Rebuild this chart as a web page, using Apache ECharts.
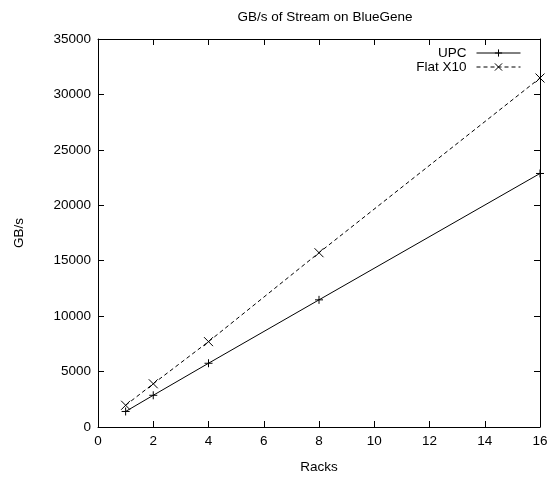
<!DOCTYPE html>
<html><head><meta charset="utf-8">
<script src="https://cdn.jsdelivr.net/npm/echarts@6/dist/echarts.min.js"></script>
<style>html,body{margin:0;padding:0;background:#fff}#c{width:551px;height:479px}</style>
</head><body><div id="c"></div>
<script>
const racks = [1, 2, 4, 8, 16];
const upc = [1400, 2860, 5750, 11470, 22870];
const flatX10 = [1960, 3900, 7700, 15720, 31480];
const xTicks = [0, 2, 4, 6, 8, 10, 12, 14, 16];
const yTicks = [0, 5000, 10000, 15000, 20000, 25000, 30000, 35000];

const FONT = 'Liberation Sans, Arial, sans-serif';
const FS = 13.5;
const chart = echarts.init(document.getElementById('c'), null, {renderer: 'canvas'});
const plus = 'path://M0,5L10,5M5,0L5,10';
const cross = 'path://M0,0L10,10M10,0L0,10';
const axBase = {
  axisLine: {show: true, onZero: false, lineStyle: {color: '#000', width: 1}},
  axisTick: {show: true, inside: true, length: 6, lineStyle: {color: '#000'}},
  splitLine: {show: false}
};
chart.setOption({
  animation: false,
  backgroundColor: '#fff',
  textStyle: {fontFamily: FONT},
  title: {text: 'GB/s of Stream on BlueGene', left: 320, top: 5, textAlign: 'center',
    textStyle: {fontSize: FS, fontWeight: 'normal', color: '#000', fontFamily: FONT}},
  grid: {left: 98, right: 11, top: 39, bottom: 51},
  legend: {
    right: 30, top: 46, orient: 'vertical', align: 'right', itemGap: 0,
    itemWidth: 44, itemHeight: 9, padding: 0,
    lineStyle: {width: 1},
    itemStyle: {borderWidth: 1},
    textStyle: {fontSize: FS, color: '#000', fontFamily: FONT, padding: [0, 5, 0, 0]},
    data: ['UPC', 'Flat X10']
  },
  xAxis: [
    Object.assign({}, axBase, {type: 'value', min: 0, max: 16, interval: 2, position: 'bottom',
      name: 'Racks', nameLocation: 'middle', nameGap: 33,
      nameTextStyle: {fontSize: FS, color: '#000', fontFamily: FONT},
      axisLabel: {fontSize: FS, color: '#000', margin: 7, fontFamily: FONT,
        customValues: xTicks}, axisTick: Object.assign({}, axBase.axisTick, {customValues: xTicks})}),
    Object.assign({}, axBase, {type: 'value', min: 0, max: 16, interval: 2, position: 'top',
      axisLabel: {show: false}})
  ],
  yAxis: [
    Object.assign({}, axBase, {type: 'value', min: 0, max: 35000, interval: 5000, position: 'left',
      name: 'GB/s', nameLocation: 'middle', nameGap: 72, nameRotate: 90,
      nameTextStyle: {fontSize: FS, color: '#000', fontFamily: FONT},
      axisLabel: {fontSize: FS, color: '#000', margin: 7, fontFamily: FONT,
        formatter: v => String(v)}}),
    Object.assign({}, axBase, {type: 'value', min: 0, max: 35000, interval: 5000, position: 'right',
      axisLabel: {show: false}})
  ],
  series: [
    {name: 'UPC', type: 'line', data: racks.map((r, i) => [r, upc[i]]),
      symbol: plus, symbolSize: 8, showAllSymbol: true,
      lineStyle: {color: '#000', width: 1, type: 'solid'},
      itemStyle: {color: 'none', borderColor: '#000', borderWidth: 1}},
    {name: 'Flat X10', type: 'line', data: racks.map((r, i) => [r, flatX10[i]]),
      symbol: cross, symbolSize: 9, showAllSymbol: true,
      lineStyle: {color: '#000', width: 1, type: [4, 3]},
      itemStyle: {color: 'none', borderColor: '#000', borderWidth: 1}}
  ]
});
</script></body></html>
